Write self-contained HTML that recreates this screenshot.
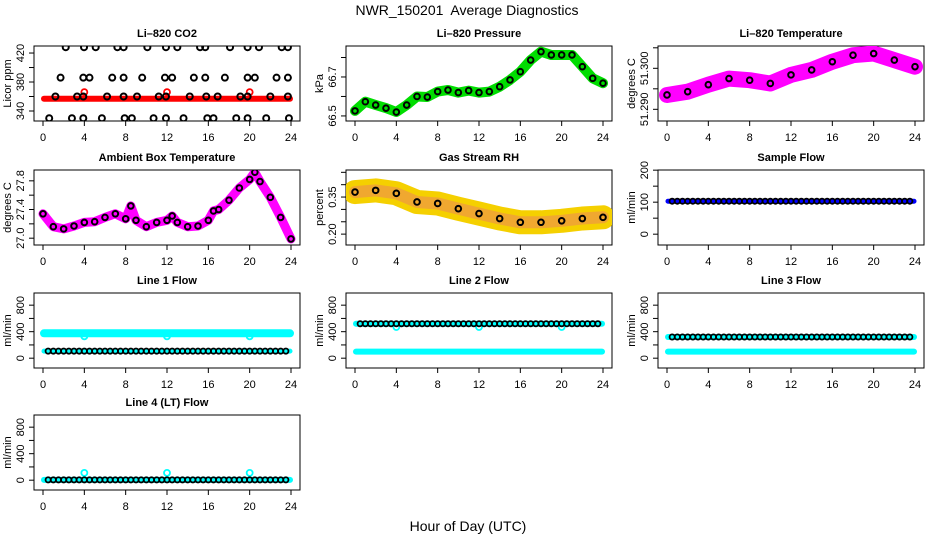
<!DOCTYPE html>
<html><head><meta charset="utf-8"><style>
html,body{margin:0;padding:0;background:#fff;}
svg{display:block;font-family:"Liberation Sans",Arial,sans-serif;}
</style></head><body>
<svg id="chart" width="936" height="540" viewBox="0 0 936 540" xmlns="http://www.w3.org/2000/svg">
<text x="467" y="15" font-size="14" text-anchor="middle">NWR_150201&#160; Average Diagnostics</text>
<text x="468" y="531" font-size="14" text-anchor="middle">Hour of Day (UTC)</text>
</svg>
<script>
// ---------- data ----------
const xTicks = [0,4,8,12,16,20,24];
const co2TopHours = [2.2,3.97,5.1,7.2,7.8,10.1,11.9,13.0,15.2,15.7,18.1,19.8,20.9,23.1,23.7];
const co2MidHighHours = [1.7,3.9,4.5,6.7,7.8,9.6,11.8,12.5,14.6,15.7,17.6,19.8,20.5,22.6,23.7];
const co2MidHours = [1.2,3.3,3.9,6.2,7.8,9.1,11.2,11.9,14.2,15.8,16.9,19.1,19.8,22.0,23.7];
const co2LowHours = [0.6,2.8,3.9,5.7,7.9,8.6,10.7,11.9,13.6,15.9,16.5,18.7,19.8,21.6,23.8];
const co2Levels = [428,386,360,330];
const co2BandHours = [0.1,23.9];
const co2BandValues = [357,357];
const co2OutHours = [4,12,20];
const co2OutValues = [366,366,366];

const pressHours = [0,1,2,3,4,5,6,7,8,9,10,11,12,13,14,15,16,17,18,19,20,21,22,23,24];
const pressValues = [66.526,66.573,66.556,66.54,66.52,66.556,66.60,66.597,66.625,66.633,66.62,66.63,66.62,66.625,66.65,66.685,66.727,66.787,66.83,66.813,66.813,66.813,66.753,66.693,66.668];

const tempHours = [0,2,4,6,8,10,12,14,16,18,20,22,24];
const tempValues = [51.2935,51.2943,51.296,51.2975,51.2971,51.2963,51.2984,51.2996,51.3016,51.3032,51.3036,51.302,51.3004];

const ambHours = [0,1,2,3,4,5,6,7,8,8.5,9,10,11,12,12.5,13,14,15,16,16.5,17,18,19,20,20.5,21,22,23,24];
const ambValues = [27.34,27.16,27.13,27.17,27.22,27.23,27.29,27.34,27.27,27.45,27.25,27.16,27.22,27.25,27.31,27.22,27.16,27.17,27.25,27.38,27.40,27.53,27.70,27.82,27.92,27.79,27.57,27.29,26.99];

const rhHours = [0,2,4,6,8,10,12,14,16,18,20,22,24];
const rhValues = [0.37,0.377,0.365,0.33,0.324,0.303,0.283,0.263,0.248,0.248,0.254,0.263,0.268];

const flowHours = [0.1,23.9];
const sampleFlow = [103,103];
const line1Upper = [376,376];
const line1Lower = [107,107];
const line2Upper = [520,520];
const line2Lower = [100,100];
const line3Upper = [320,320];
const line3Lower = [100,100];
const line4Values = [5,5];
const flowOutHours = [4,12,20];
const line1Out = [330,330,330];
const line2Out = [470,470,470];
const line4Out = [110,110,110];

// ---------- drawing ----------
const svg = document.getElementById('chart');
const NS = 'http://www.w3.org/2000/svg';
function mk(tag, attrs, parent){
  const e = document.createElementNS(NS, tag);
  for (const k in attrs) e.setAttribute(k, attrs[k]);
  (parent||svg).appendChild(e);
  return e;
}
const cols = [34,346,658];
const rows = [46,170,293,415];
const BW = 266, BH = 75;

function panel(name, col, row, title, ylab, lo, hi, ticks, labels){
  const x0 = cols[col], y0 = rows[row];
  const g = mk('g', {});
  
  
  const xs = h => x0 + 9 + h * (248/24);
  const ys = v => y0 + BH - (v - lo) / (hi - lo) * BH;
  const box = mk('rect', {x:x0, y:y0, width:BW, height:BH, fill:'none', stroke:'#000', 'stroke-width':1}, g);
  
  
  const t = mk('text', {x:x0+BW/2, y:y0-9, 'font-size':11, 'font-weight':'bold', 'text-anchor':'middle'}, g);
  t.textContent = title;
  
  
  const xa = mk('g', {}, g);
  
  
  mk('line', {x1:xs(0), x2:xs(24), y1:y0+BH, y2:y0+BH, stroke:'#000'}, xa);
  xTicks.forEach(h => {
    mk('line', {x1:xs(h), x2:xs(h), y1:y0+BH, y2:y0+BH+5, stroke:'#000'}, xa);
    const l = mk('text', {x:xs(h), y:y0+BH+20, 'font-size':11, 'text-anchor':'middle'}, xa);
    l.textContent = h;
  });
  const ya = mk('g', {}, g);
  
  
  const tv = ticks.filter(v => ys(v) >= y0-1 && ys(v) <= y0+BH+1);
  mk('line', {x1:x0, x2:x0, y1:ys(tv[0]), y2:ys(tv[tv.length-1]), stroke:'#000'}, ya);
  tv.forEach(v => mk('line', {x1:x0-5, x2:x0, y1:ys(v), y2:ys(v), stroke:'#000'}, ya));
  labels.forEach(lb => {
    const yy = ys(parseFloat(lb));
    const l = mk('text', {x:0, y:0, 'font-size':11, 'text-anchor':'middle', transform:`translate(${x0-10},${yy}) rotate(-90)`}, ya);
    l.textContent = lb;
  });
  const yl = mk('text', {x:0, y:0, 'font-size':11, 'text-anchor':'middle', transform:`translate(${x0-23},${y0+BH/2}) rotate(-90)`}, g);
  yl.textContent = ylab;
  
  
  const clip = 'c' + name;
  const cp = mk('clipPath', {id:clip}, g);
  mk('rect', {x:x0, y:y0, width:BW, height:BH}, cp);
  const plot = mk('g', {'clip-path':`url(#${clip})`}, g);
  return {xs, ys, plot};
}
function band(p, name, hs, vs, color, w){
  const d = hs.map((h,i) => (i?'L':'M') + p.xs(h).toFixed(1) + ',' + p.ys(vs[i]).toFixed(1)).join(' ');
  const e = mk('path', {d, fill:'none', stroke:color, 'stroke-width':w, 'stroke-linejoin':'round', 'stroke-linecap':'round'}, p.plot);
  
  
}
function pts(p, name, hs, vs, color, r, sw){
  hs.forEach((h,i) => {
    const c = mk('circle', {cx:p.xs(h), cy:p.ys(vs[i]), r:r, fill:'none', stroke:color, 'stroke-width':sw||1.8}, p.plot);
    
    
  });
}
function rowPts(p, name, lo, hi, v, color){
  const H=[],V=[];
  for(let h=lo; h<=hi+1e-9; h+=0.5){H.push(h);V.push(v);}
  pts(p, name, H, V, color, 2.6, 1.8);
}

let p = panel('panel-co2',0,0,'Li–820 CO2','Licor ppm',326.2,429.7,[340,360,380,400,420],['340','380','420']);
band(p,'co2-band',co2BandHours,co2BandValues,'#ff0000',6);
pts(p,'co2-outlier',co2OutHours,co2OutValues,'#ff0000',3,1.8);
[co2TopHours,co2MidHighHours,co2MidHours,co2LowHours].forEach((hs,k)=>pts(p,'co2-point',hs,hs.map(()=>co2Levels[k]),'#000',3,2));

p = panel('panel-pressure',1,0,'Li–820 Pressure','kPa',66.474,66.859,[66.5,66.6,66.7,66.8],['66.5','66.7']);
band(p,'pressure-band',pressHours,pressValues,'#00dd00',10);
pts(p,'pressure-point',pressHours,pressValues,'#000',2.8,2);

p = panel('panel-temperature',2,0,'Li–820 Temperature','degrees C',51.28715,51.30544,[51.290,51.295,51.300,51.305],['51.290','51.300']);
band(p,'temperature-band',tempHours,tempValues,'#ff00ff',16);
pts(p,'temperature-point',tempHours,tempValues,'#000',2.8,2);

p = panel('panel-ambient',0,1,'Ambient Box Temperature','degrees C',26.905,27.951,[27.0,27.2,27.4,27.6,27.8],['27.0','27.4','27.8']);
band(p,'ambient-band',ambHours,ambValues,'#ff00ff',9);
pts(p,'ambient-point',ambHours,ambValues,'#000',2.8,2);

p = panel('panel-rh',1,1,'Gas Stream RH','percent',0.156,0.4594,[0.20,0.25,0.30,0.35,0.40,0.45],['0.20','0.35']);
band(p,'rh-band-outer',rhHours,rhValues,'#f5d000',24);
band(p,'rh-band-inner',rhHours,rhValues,'#f0a830',12);
pts(p,'rh-point',rhHours,rhValues,'#000',2.8,2);

p = panel('panel-sample-flow',2,1,'Sample Flow','ml/min',-33.8,200.5,[0,50,100,150,200],['0','100','200']);
band(p,'sample-flow-band',flowHours,sampleFlow,'#0000ff',5);
rowPts(p,'sample-flow-point',0.5,23.8,sampleFlow[0],'#000');

const fLo=-148, fHi=983.5, fT=[0,200,400,600,800,1000], fL=['0','400','800'];
p = panel('panel-line1',0,2,'Line 1 Flow','ml/min',fLo,fHi,fT,fL);
band(p,'line1-upper-band',flowHours,line1Upper,'#00ffff',8);
band(p,'line1-lower-band',flowHours,line1Lower,'#00ffff',5);
pts(p,'line1-outlier',flowOutHours,line1Out,'#00ffff',3,1.8);
rowPts(p,'line1-point',0.5,23.8,line1Lower[0],'#000');
p = panel('panel-line2',1,2,'Line 2 Flow','ml/min',fLo,fHi,fT,fL);
band(p,'line2-upper-band',flowHours,line2Upper,'#00ffff',6);
band(p,'line2-lower-band',flowHours,line2Lower,'#00ffff',6);
pts(p,'line2-outlier',flowOutHours,line2Out,'#00ffff',3,1.8);
rowPts(p,'line2-point',0.5,23.8,line2Upper[0],'#000');
p = panel('panel-line3',2,2,'Line 3 Flow','ml/min',fLo,fHi,fT,fL);
band(p,'line3-upper-band',flowHours,line3Upper,'#00ffff',6);
band(p,'line3-lower-band',flowHours,line3Lower,'#00ffff',6);
rowPts(p,'line3-point',0.5,23.8,line3Upper[0],'#000');
p = panel('panel-line4',0,3,'Line 4 (LT) Flow','ml/min',fLo,fHi,fT,fL);
band(p,'line4-band',flowHours,line4Values,'#00ffff',6);
pts(p,'line4-outlier',flowOutHours,line4Out,'#00ffff',3,1.8);
rowPts(p,'line4-point',0.5,23.8,line4Values[0],'#000');
</script>
</body></html>
